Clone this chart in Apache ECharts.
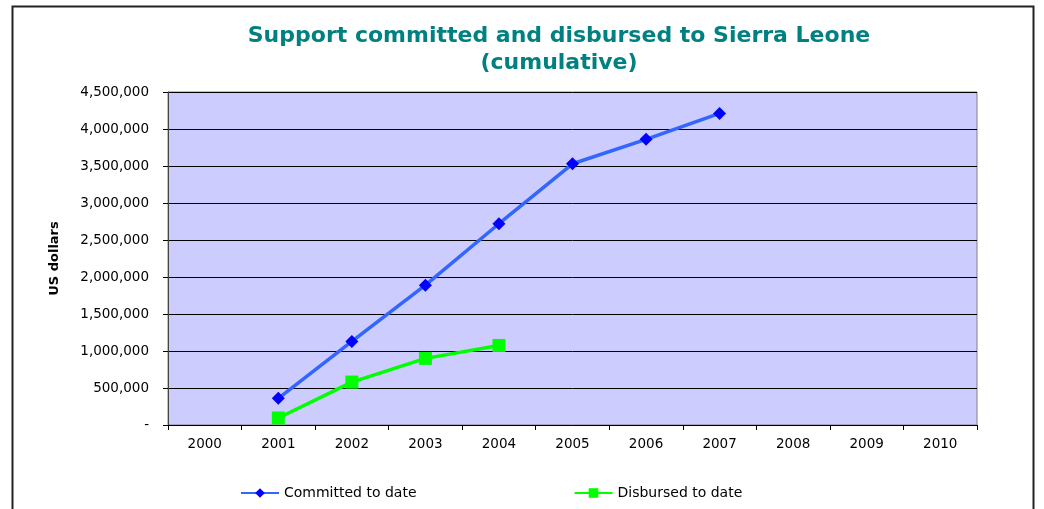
<!DOCTYPE html>
<html>
<head>
<meta charset="utf-8">
<script src="https://cdn.jsdelivr.net/npm/echarts@6/dist/echarts.min.js"></script>
<style>
html,body{margin:0;padding:0;background:#fff;}
#c{width:1044px;height:509px;}
</style>
</head>
<body>
<div id="c"></div>
<script>
var years = ['2000','2001','2002','2003','2004','2005','2006','2007','2008','2009','2010'];
var committed = [null, 360000, 1130000, 1890000, 2720000, 3530000, 3860000, 4210000, null, null, null];
var disbursed = [null, 95000, 580000, 900000, 1075000, null, null, null, null, null, null];
var seriesNames = ['Committed to date', 'Disbursed to date'];
var titleText = 'Support committed and disbursed to Sierra Leone\n(cumulative)';
var yAxisName = 'US dollars';

var chart = echarts.init(document.getElementById('c'), null, {renderer: 'canvas'});
chart.setOption({
  animation: false,
  backgroundColor: '#ffffff',
  title: {
    text: titleText,
    left: 554,
    textAlign: 'center',
    top: 18,
    textStyle: {
      fontFamily: 'DejaVu Sans',
      fontWeight: 'bold',
      fontSize: 22,
      lineHeight: 27,
      color: '#008080'
    }
  },
  graphic: [{
    type: 'polyline',
    shape: {points: [[12.5, 509], [12.5, 6.5], [1033.5, 6.5], [1033.5, 509]]},
    style: {stroke: '#222', lineWidth: 2, fill: null},
    silent: true
  }],
  legend: {
    data: seriesNames,
    left: 235,
    top: 481,
    itemWidth: 38,
    itemHeight: 12,
    itemGap: 157,
    textStyle: {fontFamily: 'DejaVu Sans', fontSize: 14, color: '#000'}
  },
  grid: {
    left: 168, right: 67, top: 92, bottom: 84,
    show: true,
    backgroundColor: '#CCCCFF',
    borderColor: '#808080',
    borderWidth: 1
  },
  xAxis: {
    type: 'category',
    data: years,
    boundaryGap: true,
    axisLine: {lineStyle: {color: '#000', width: 1}},
    axisTick: {show: true, length: 5, interval: 0, lineStyle: {color: '#000'}},
    axisLabel: {margin: 12, fontFamily: 'DejaVu Sans', fontSize: 13.5, color: '#000', interval: 0}
  },
  yAxis: {
    type: 'value',
    min: 0,
    max: 4500000,
    interval: 500000,
    name: yAxisName,
    nameLocation: 'middle',
    nameGap: 107,
    nameRotate: 90,
    nameTextStyle: {fontFamily: 'DejaVu Sans', fontWeight: 'bold', fontSize: 13, color: '#000'},
    axisLine: {show: true, lineStyle: {color: '#444', width: 1}},
    axisTick: {show: true, length: 5, lineStyle: {color: '#000'}},
    splitLine: {show: true, lineStyle: {color: '#000', width: 1}},
    axisLabel: {
      margin: 19,
      fontFamily: 'DejaVu Sans',
      fontSize: 13.5,
      color: '#000',
      formatter: function (v) { return v === 0 ? '-' : v.toLocaleString('en-US'); }
    }
  },
  series: [{
    name: seriesNames[0],
    type: 'line',
    data: committed,
    symbol: 'diamond',
    symbolSize: 13,
    itemStyle: {color: '#0000FF'},
    lineStyle: {color: '#3366FF', width: 3.5},
    connectNulls: false
  }, {
    name: seriesNames[1],
    type: 'line',
    data: disbursed,
    symbol: 'rect',
    symbolSize: 13,
    itemStyle: {color: '#00FF00'},
    lineStyle: {color: '#00FF00', width: 3.5},
    connectNulls: false
  }]
});
</script>
</body>
</html>
